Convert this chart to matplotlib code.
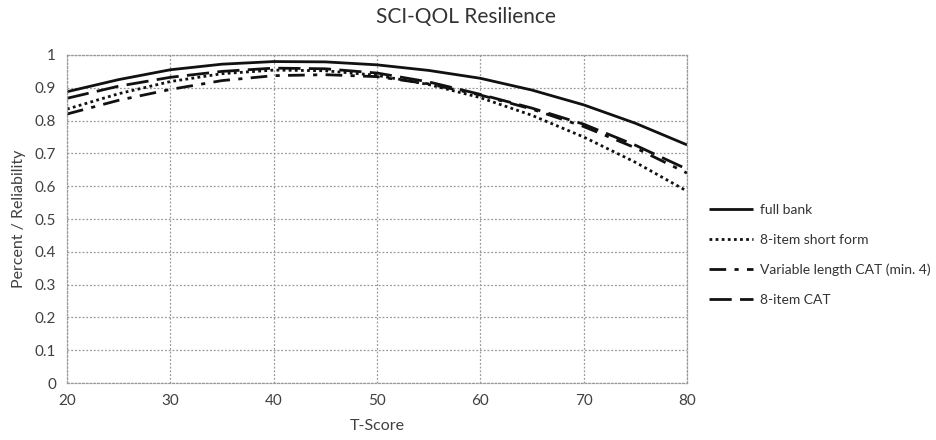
import matplotlib
matplotlib.use("Agg")
import matplotlib.pyplot as plt

t_score = [20, 25, 30, 35, 40, 45, 50, 55, 60, 65, 70, 75, 80]
full_bank = [0.888, 0.925, 0.955, 0.972, 0.980, 0.979, 0.970, 0.953, 0.929, 0.893, 0.848, 0.792, 0.726]
short_form = [0.835, 0.882, 0.919, 0.943, 0.954, 0.952, 0.938, 0.910, 0.870, 0.816, 0.750, 0.673, 0.585]
variable_cat = [0.820, 0.862, 0.895, 0.922, 0.937, 0.940, 0.934, 0.912, 0.878, 0.835, 0.782, 0.717, 0.640]
cat8 = [0.868, 0.905, 0.932, 0.950, 0.960, 0.958, 0.945, 0.918, 0.880, 0.838, 0.789, 0.725, 0.652]
series_names = ["full bank", "8-item short form", "Variable length CAT (min. 4)", "8-item CAT"]
y_ticks = [0, 0.1, 0.2, 0.3, 0.4, 0.5, 0.6, 0.7, 0.8, 0.9, 1]
y_tick_labels = ["0", "0.1", "0.2", "0.3", "0.4", "0.5", "0.6", "0.7", "0.8", "0.9", "1"]
x_ticks = [20, 30, 40, 50, 60, 70, 80]

plt.rcParams['font.family'] = ['Lato', 'DejaVu Sans']

fig = plt.figure(figsize=(9.37, 4.4), dpi=100)
ax = fig.add_axes([67/937, 1-383/440, 620/937, 328/440])

c = "#111111"
styles = [
    dict(linestyle="-", lw=2.0),
    dict(linestyle=(0, (1, 1.2)), lw=2.0),
    dict(linestyle=(0, (6, 3, 1.5, 3)), lw=2.0),
    dict(linestyle=(0, (8, 3)), lw=2.0),
]
data = [full_bank, short_form, variable_cat, cat8]
handles = []
for name, ys, st in zip(series_names, data, styles):
    ln, = ax.plot(t_score, ys, color=c, label=name, solid_capstyle="butt", dash_capstyle="butt", **st)
    handles.append(ln)

ax.set_xlim(20, 80)
ax.set_ylim(0, 1)
ax.set_xticks(x_ticks)
ax.set_yticks(y_ticks)
ax.set_yticklabels(y_tick_labels)
ax.tick_params(length=0, labelsize=11, colors="#404040", pad=8)
ax.grid(True, color="#9a9a9a", linestyle=(0, (1.5, 1.5)), lw=0.9)
for s in ax.spines.values():
    s.set_color("#9a9a9a")
    s.set_linestyle((0, (1.5, 1.5)))
    s.set_linewidth(0.9)

ax.set_xlabel("T-Score", fontsize=11.5, color="#404040", labelpad=8)
ax.set_ylabel("Percent / Reliability", fontsize=11.5, color="#404040", labelpad=6)
fig.text(0.497, 0.962, "SCI-QOL Resilience", ha="center", va="center", fontsize=15, color="#333333")

fig.legend(handles=handles, loc="upper left", bbox_to_anchor=(697/937, 1-191/440),
           frameon=False, fontsize=10, handlelength=3.1, labelspacing=1.3,
           handletextpad=0.55, labelcolor="#333333")

fig.savefig("out.png", dpi=100)
